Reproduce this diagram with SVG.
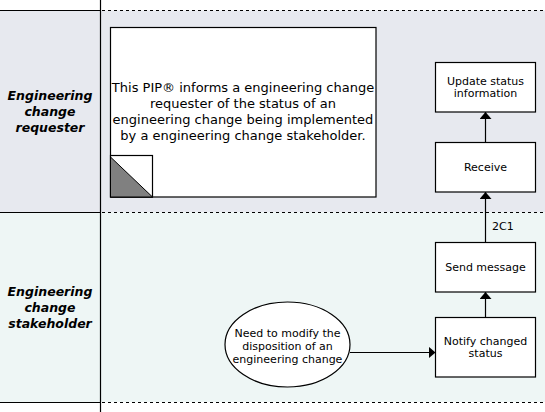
<svg xmlns="http://www.w3.org/2000/svg" width="545" height="412" viewBox="0 0 545 412">
<style>
.lane1{fill:#e7e9ef}
.lane2{fill:#eef6f5}
.solid{stroke:#000;stroke-width:1.2;fill:none}
.dash{stroke:#000;stroke-width:1.2;stroke-dasharray:3 3;fill:none}
.box{fill:#fff;stroke:#000;stroke-width:1.2}
.lbl{font-family:"DejaVu Sans",Verdana,sans-serif;font-size:12.5px;font-weight:bold;font-style:italic;text-anchor:middle;fill:#000}
.t{font-family:"DejaVu Sans",Verdana,sans-serif;font-size:11px;text-anchor:middle;fill:#000}
.note{font-family:"DejaVu Sans",Verdana,sans-serif;font-size:13px;text-anchor:middle;fill:#000}
.conn{stroke:#000;stroke-width:1.2;fill:none}
</style>
<defs>
<marker id="arr" viewBox="0 0 7 12" refX="7" refY="6" markerWidth="7" markerHeight="12" markerUnits="userSpaceOnUse" orient="auto">
<path d="M0,0 L7,6 L0,12 Z" fill="#000"/>
</marker>
</defs>
<rect x="0" y="0" width="545" height="412" fill="#fff"/>
<g id="lanes">
<rect class="lane1" x="0" y="10.5" width="545" height="201.5"/>
<rect class="lane2" x="0" y="212" width="545" height="190"/>
<line class="solid" x1="100.5" y1="0" x2="100.5" y2="412"/>
<line class="solid" x1="0" y1="10.5" x2="100.5" y2="10.5"/>
<line class="dash" x1="102" y1="10.5" x2="545" y2="10.5"/>
<line class="solid" x1="0" y1="212.5" x2="100.5" y2="212.5"/>
<line class="dash" x1="102" y1="212.5" x2="545" y2="212.5"/>
<line class="solid" x1="0" y1="402.5" x2="100.5" y2="402.5"/>
<line class="dash" x1="102" y1="402.5" x2="545" y2="402.5"/>
</g>
<g id="lane-requester">
<text class="lbl" x="50" y="100">Engineering</text>
<text class="lbl" x="50" y="116">change</text>
<text class="lbl" x="50" y="132">requester</text>
</g>
<g id="lane-stakeholder">
<text class="lbl" x="50" y="296">Engineering</text>
<text class="lbl" x="50" y="312">change</text>
<text class="lbl" x="50" y="328">stakeholder</text>
</g>
<g id="note">
<rect class="box" x="110.5" y="27.5" width="265.5" height="169.5"/>
<text class="note" x="243" y="92">This PIP® informs a engineering change</text>
<text class="note" x="243" y="108">requester of the status of an</text>
<text class="note" x="243" y="124">engineering change being implemented</text>
<text class="note" x="243" y="140">by a engineering change stakeholder.</text>
<rect class="box" x="110.5" y="155.5" width="42" height="41.5"/>
<polygon points="110.5,157 110.5,197 152.5,197" fill="#808080" stroke="#000" stroke-width="1"/>
</g>
<g id="update">
<rect class="box" x="435.5" y="62.5" width="100" height="49.5"/>
<text class="t" x="485.5" y="85">Update status</text>
<text class="t" x="485.5" y="97">information</text>
</g>
<g id="receive">
<rect class="box" x="435.5" y="142.5" width="100" height="49.5"/>
<text class="t" x="485.5" y="171">Receive</text>
</g>
<g id="send">
<rect class="box" x="435.5" y="242.5" width="100" height="49.5"/>
<text class="t" x="485.5" y="271">Send message</text>
</g>
<g id="notify">
<rect class="box" x="435.5" y="317.5" width="100" height="59.5"/>
<text class="t" x="485.5" y="345">Notify changed</text>
<text class="t" x="485.5" y="357">status</text>
</g>
<g id="start">
<ellipse cx="287.5" cy="344.5" rx="62.5" ry="42.5" fill="#fff" stroke="#000" stroke-width="1.2"/>
<text class="t" x="287.5" y="337">Need to modify the</text>
<text class="t" x="287.5" y="350">disposition of an</text>
<text class="t" x="287.5" y="363">engineering change</text>
</g>
<g id="connectors">
<line class="conn" x1="350" y1="352.5" x2="435.5" y2="352.5" marker-end="url(#arr)"/>
<line class="conn" x1="485.5" y1="317.5" x2="485.5" y2="292" marker-end="url(#arr)"/>
<line class="conn" x1="485.5" y1="242.5" x2="485.5" y2="192" marker-end="url(#arr)"/>
<line class="conn" x1="485.5" y1="142.5" x2="485.5" y2="112" marker-end="url(#arr)"/>
<text class="t" x="492" y="229.5" style="text-anchor:start">2C1</text>
</g>
</svg>
